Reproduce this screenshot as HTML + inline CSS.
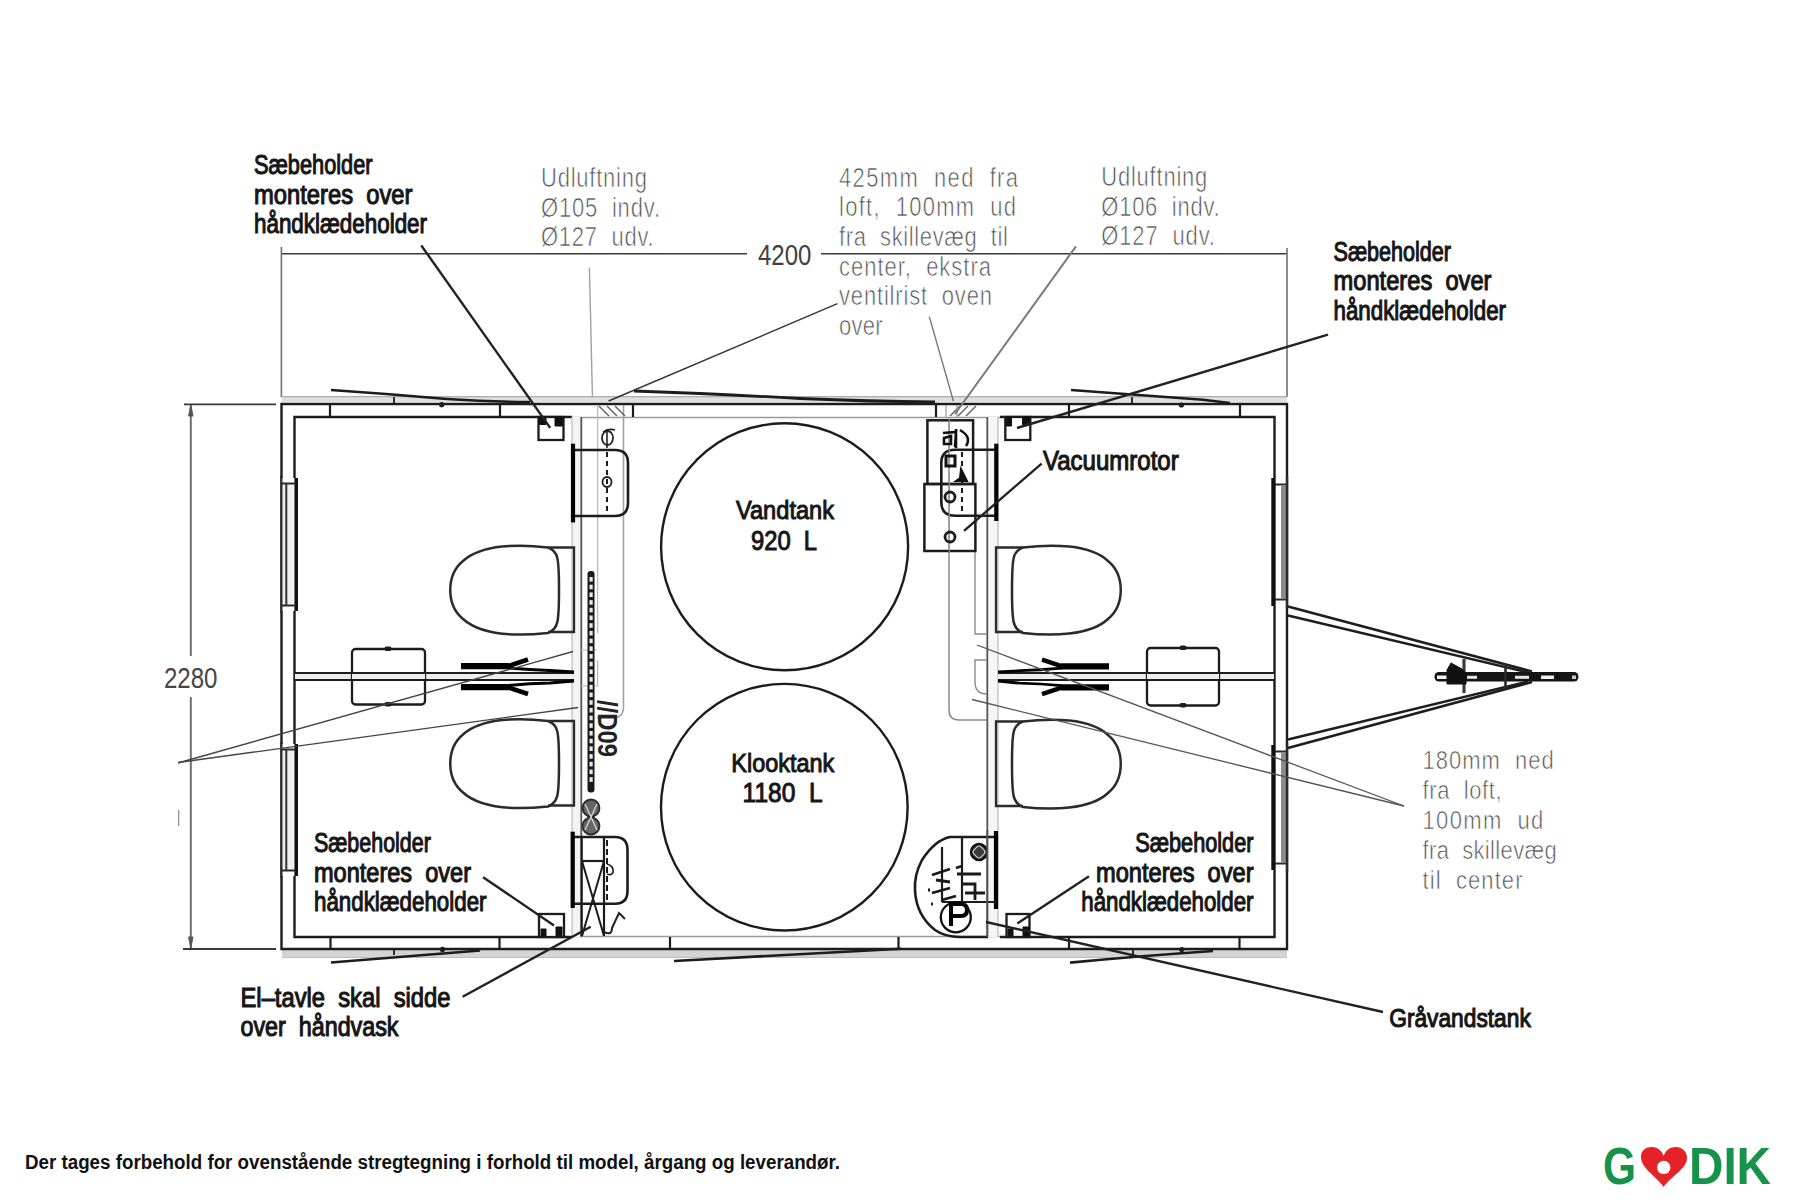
<!DOCTYPE html>
<html><head><meta charset="utf-8"><style>
html,body{margin:0;padding:0;background:#fff;}
svg{display:block;font-family:"Liberation Sans",sans-serif;}
</style></head><body>
<svg width="1800" height="1200" viewBox="0 0 1800 1200">
<rect width="1800" height="1200" fill="#fff"/>
<line x1="281" y1="253.7" x2="747" y2="253.7" stroke="#3a3a3a" stroke-width="1.6" />
<line x1="821" y1="253.7" x2="1287" y2="253.7" stroke="#3a3a3a" stroke-width="1.6" />
<line x1="281.4" y1="247" x2="281.4" y2="397" stroke="#707070" stroke-width="1.6" />
<line x1="1287" y1="248" x2="1287" y2="397" stroke="#707070" stroke-width="1.6" />
<text transform="translate(758,264.5) scale(1,1.440)" x="0" y="0" font-size="21" font-weight="normal" fill="#404040" textLength="53.3" lengthAdjust="spacingAndGlyphs" stroke="#fff" stroke-width="0" style="white-space:pre">4200</text>
<line x1="190.8" y1="404" x2="190.8" y2="656" stroke="#707070" stroke-width="2" />
<line x1="190.8" y1="697" x2="190.8" y2="949" stroke="#707070" stroke-width="2" />
<line x1="184" y1="404.4" x2="276" y2="404.4" stroke="#3a3a3a" stroke-width="1.8" />
<line x1="183" y1="949" x2="276" y2="949" stroke="#3a3a3a" stroke-width="1.8" />
<text transform="translate(164,687.5) scale(1,1.440)" x="0" y="0" font-size="21" font-weight="normal" fill="#454545" textLength="53.5" lengthAdjust="spacingAndGlyphs" stroke="#fff" stroke-width="0" style="white-space:pre">2280</text>
<line x1="178.7" y1="810" x2="178.7" y2="826" stroke="#888" stroke-width="1.2" />
<path d="M188.6,416 L190.8,405 L193,416 Z" stroke="#555" stroke-width="1" fill="#555" />
<path d="M188.6,937 L190.8,948 L193,937 Z" stroke="#555" stroke-width="1" fill="#555" />
<rect x="282" y="396.5" width="1005" height="5.5" fill="#e0e0e0" />
<line x1="281.4" y1="396.8" x2="1287" y2="396.8" stroke="#9a9a9a" stroke-width="1.1" />
<rect x="282" y="950" width="1005" height="8" fill="#d4d4d4" />
<line x1="282" y1="957.5" x2="1287" y2="957.5" stroke="#bdbdbd" stroke-width="1" />
<path d="M281.5,949 L281.5,404 L1287,404 L1287,949 Z" stroke="#1c1c1c" stroke-width="2.4" fill="none" />
<path d="M572,417 L294.5,417 L294.5,937 L572,937" stroke="#1c1c1c" stroke-width="2.4" fill="none" />
<path d="M1000,417 L1274.5,417 L1274.5,937 L1000,937" stroke="#1c1c1c" stroke-width="2.4" fill="none" />
<line x1="572" y1="417.5" x2="1000" y2="417.5" stroke="#9a9a9a" stroke-width="1.4" />
<line x1="572" y1="936.5" x2="1000" y2="936.5" stroke="#9a9a9a" stroke-width="1.4" />
<line x1="330" y1="404" x2="330" y2="417" stroke="#1c1c1c" stroke-width="2.2" />
<line x1="500" y1="404" x2="500" y2="417" stroke="#1c1c1c" stroke-width="2.2" />
<line x1="633" y1="404" x2="633" y2="417" stroke="#1c1c1c" stroke-width="2.2" />
<line x1="936" y1="404" x2="936" y2="417" stroke="#1c1c1c" stroke-width="2.2" />
<line x1="1069" y1="404" x2="1069" y2="417" stroke="#1c1c1c" stroke-width="2.2" />
<line x1="1240" y1="404" x2="1240" y2="417" stroke="#1c1c1c" stroke-width="2.2" />
<line x1="394" y1="397" x2="394" y2="403" stroke="#1c1c1c" stroke-width="1.8" />
<line x1="1132" y1="397" x2="1132" y2="403" stroke="#1c1c1c" stroke-width="1.8" />
<line x1="330.5" y1="937" x2="330.5" y2="949" stroke="#1c1c1c" stroke-width="2.2" />
<line x1="499.5" y1="937" x2="499.5" y2="949" stroke="#1c1c1c" stroke-width="2.2" />
<line x1="670" y1="937" x2="670" y2="949" stroke="#1c1c1c" stroke-width="2.2" />
<line x1="898.5" y1="937" x2="898.5" y2="949" stroke="#1c1c1c" stroke-width="2.2" />
<line x1="1069" y1="937" x2="1069" y2="949" stroke="#1c1c1c" stroke-width="2.2" />
<line x1="1239.5" y1="937" x2="1239.5" y2="949" stroke="#1c1c1c" stroke-width="2.2" />
<line x1="394" y1="949" x2="394" y2="955" stroke="#1c1c1c" stroke-width="1.8" />
<line x1="1133" y1="949" x2="1133" y2="955" stroke="#1c1c1c" stroke-width="1.8" />
<path d="M331,390 Q390,394 447,399 Q490,402 530,402" stroke="#1c1c1c" stroke-width="2.6" fill="none" />
<path d="M634,391 Q720,394 800,398.5 Q870,401.5 935,402" stroke="#1c1c1c" stroke-width="2.8" fill="none" />
<path d="M1071,390 Q1140,395 1203,399.7 L1230,403" stroke="#1c1c1c" stroke-width="2.6" fill="none" />
<circle cx="441.7" cy="404.7" r="2.6" fill="#1c1c1c"/>
<circle cx="1181.4" cy="405" r="2.6" fill="#1c1c1c"/>
<path d="M331,962.5 Q400,957 480,950.5" stroke="#1c1c1c" stroke-width="2.6" fill="none" />
<path d="M674,961 Q790,955 901,948.7" stroke="#1c1c1c" stroke-width="2.6" fill="none" />
<path d="M1070,962.6 Q1140,956 1213,951" stroke="#1c1c1c" stroke-width="2.6" fill="none" />
<circle cx="442.5" cy="949.4" r="2.6" fill="#1c1c1c"/>
<circle cx="1181.7" cy="949.6" r="2.6" fill="#1c1c1c"/>
<rect x="572" y="417" width="9" height="520" fill="#f3f3f3" />
<line x1="572" y1="417" x2="572" y2="937" stroke="#c4c4c4" stroke-width="1.4" />
<line x1="581.3" y1="417" x2="581.3" y2="937" stroke="#555" stroke-width="1.8" />
<line x1="597.6" y1="405" x2="597.6" y2="633" stroke="#bbb" stroke-width="1.3" />
<line x1="597.6" y1="660" x2="597.6" y2="686" stroke="#bbb" stroke-width="1.3" />
<path d="M623.5,405 L623.5,707 Q623.5,718 612,718 L597,718" stroke="#a0a0a0" stroke-width="1.5" fill="none" />
<rect x="988" y="417" width="10" height="520" fill="#f6f6f6" />
<line x1="987.3" y1="417" x2="987.3" y2="937" stroke="#555" stroke-width="1.8" />
<line x1="998" y1="417" x2="998" y2="937" stroke="#c4c4c4" stroke-width="1.4" />
<path d="M949,420 L949,710 Q949,720 959,720 L987,720" stroke="#8a8a8a" stroke-width="1.5" fill="none" />
<path d="M975,551 L975,634 L987,634" stroke="#8a8a8a" stroke-width="1.4" fill="none" />
<path d="M987,660 L975,660 L975,682 Q975,694 987,694" stroke="#8a8a8a" stroke-width="1.4" fill="none" />
<path d="M581,650 L597,650 M581,686 L597,686" stroke="#bbb" stroke-width="1.2" fill="none" />
<line x1="599" y1="406" x2="609" y2="416" stroke="#666" stroke-width="1.5" />
<line x1="607" y1="406" x2="617" y2="416" stroke="#666" stroke-width="1.5" />
<line x1="615" y1="406" x2="625" y2="416" stroke="#666" stroke-width="1.5" />
<line x1="950" y1="416" x2="960" y2="406" stroke="#666" stroke-width="1.5" />
<line x1="958" y1="416" x2="968" y2="406" stroke="#666" stroke-width="1.5" />
<line x1="966" y1="416" x2="976" y2="406" stroke="#666" stroke-width="1.5" />
<line x1="946" y1="405" x2="946" y2="417" stroke="#999" stroke-width="1.2" />
<line x1="957" y1="405" x2="957" y2="417" stroke="#999" stroke-width="1.2" />
<rect x="295" y="673" width="279" height="7" fill="#eeeeee" />
<rect x="998" y="673" width="276" height="7" fill="#eeeeee" />
<line x1="295" y1="673" x2="574" y2="673" stroke="#1c1c1c" stroke-width="2.0" />
<line x1="295" y1="680" x2="574" y2="680" stroke="#1c1c1c" stroke-width="2.0" />
<line x1="998" y1="673" x2="1274" y2="673" stroke="#1c1c1c" stroke-width="2.0" />
<line x1="998" y1="680" x2="1274" y2="680" stroke="#1c1c1c" stroke-width="2.0" />
<rect x="279" y="478" width="16" height="133" fill="#ffffff" />
<rect x="282.5" y="484" width="11" height="121" fill="#efefef" />
<line x1="296.2" y1="478" x2="296.2" y2="611" stroke="#111" stroke-width="3.6" />
<path d="M296,483.5 L281.3,483.5 M296,605.5 L281.3,605.5" stroke="#2a2a2a" stroke-width="2.2" fill="none" />
<line x1="281.3" y1="476" x2="281.3" y2="613" stroke="#2a2a2a" stroke-width="2.4" />
<line x1="286.3" y1="483.5" x2="286.3" y2="605.5" stroke="#333" stroke-width="2.0" />
<rect x="279" y="744" width="16" height="132" fill="#ffffff" />
<rect x="282.5" y="750" width="11" height="120" fill="#efefef" />
<line x1="296.2" y1="744" x2="296.2" y2="876" stroke="#111" stroke-width="3.6" />
<path d="M296,749.5 L281.3,749.5 M296,870.5 L281.3,870.5" stroke="#2a2a2a" stroke-width="2.2" fill="none" />
<line x1="281.3" y1="742" x2="281.3" y2="878" stroke="#2a2a2a" stroke-width="2.4" />
<line x1="286.3" y1="749.5" x2="286.3" y2="870.5" stroke="#333" stroke-width="2.0" />
<rect x="1275.5" y="478" width="10" height="128" fill="#ffffff" />
<line x1="1273.4" y1="478" x2="1273.4" y2="606" stroke="#111" stroke-width="4.2" />
<path d="M1275,484.5 L1287,484.5 M1275,599.5 L1287,599.5" stroke="#2a2a2a" stroke-width="2.2" fill="none" />
<rect x="1281" y="485.5" width="5.5" height="113" fill="#8c8c8c" />
<line x1="1287" y1="476" x2="1287" y2="608" stroke="#2a2a2a" stroke-width="2.4" />
<rect x="1275.5" y="745" width="10" height="125" fill="#ffffff" />
<line x1="1273.4" y1="745" x2="1273.4" y2="870" stroke="#111" stroke-width="4.2" />
<path d="M1275,751.5 L1287,751.5 M1275,863.5 L1287,863.5" stroke="#2a2a2a" stroke-width="2.2" fill="none" />
<rect x="1281" y="752.5" width="5.5" height="110" fill="#8c8c8c" />
<line x1="1287" y1="743" x2="1287" y2="872" stroke="#2a2a2a" stroke-width="2.4" />
<path d="M1288,606.5 L1532,671.5" stroke="#1e1e1e" stroke-width="2.6" fill="none" />
<path d="M1288,615.5 L1528,672.5" stroke="#1e1e1e" stroke-width="2.4" fill="none" />
<path d="M1288,739.5 L1528,681.5" stroke="#1e1e1e" stroke-width="2.4" fill="none" />
<path d="M1288,748 L1532,682" stroke="#1e1e1e" stroke-width="2.6" fill="none" />
<rect x="1434.5" y="672" width="144" height="9.5" rx="4.5" fill="#151515"/>
<rect x="1437" y="675.5" width="19" height="3.5" fill="#f2f2f2" />
<rect x="1467" y="675.8" width="10" height="3" fill="#e8e8e8" />
<rect x="1515" y="675.8" width="14" height="3" fill="#e8e8e8" />
<rect x="1541" y="675.5" width="13" height="3.5" fill="#f2f2f2" />
<rect x="1572" y="675.5" width="4" height="3.5" fill="#cccccc" />
<line x1="1464" y1="659" x2="1464" y2="693" stroke="#3a3a3a" stroke-width="3.2" />
<line x1="1505.5" y1="664" x2="1505.5" y2="689" stroke="#2a2a2a" stroke-width="2.6" />
<path d="M1451,663 L1462,669 L1466,673 L1466,684 L1447,684 L1447,670 Z" stroke="#111" stroke-width="1" fill="#111" />
<circle cx="784.6" cy="546.8" r="123.5" stroke="#1c1c1c" stroke-width="2.4" fill="none"/>
<circle cx="784.3" cy="807.2" r="123.3" stroke="#1c1c1c" stroke-width="2.4" fill="none"/>
<text x="736" y="519.2" font-size="26" font-weight="normal" fill="#161616" text-anchor="start" textLength="98" lengthAdjust="spacingAndGlyphs" stroke="#161616" stroke-width="1.0" style="white-space:pre" >Vandtank</text>
<text x="751" y="550.2" font-size="27" font-weight="normal" fill="#161616" text-anchor="start" textLength="66" lengthAdjust="spacingAndGlyphs" stroke="#161616" stroke-width="1.0" style="white-space:pre" >920  L</text>
<text x="731.3" y="771.7" font-size="26" font-weight="normal" fill="#161616" text-anchor="start" textLength="103" lengthAdjust="spacingAndGlyphs" stroke="#161616" stroke-width="1.0" style="white-space:pre" >Klooktank</text>
<text x="742.6" y="802" font-size="27" font-weight="normal" fill="#161616" text-anchor="start" textLength="80" lengthAdjust="spacingAndGlyphs" stroke="#161616" stroke-width="1.0" style="white-space:pre" >1180  L</text>
<path d="M548,547.5 C520,544 482,544 463,561 C446,575 446,605 463,619 C482,636 520,636 548,633 C558,629 559,623 559,590 C559,557 558,551 548,547.5 Z" stroke="#2e2a2a" stroke-width="2.5" fill="none" />
<path d="M548,547.5 L574,547.5 L574,632 L548,632" stroke="#2e2a2a" stroke-width="2.3" fill="none" />
<path d="M548,721.0 C520,717.5 482,717.5 463,734.5 C446,748.5 446,778.5 463,792.5 C482,809.5 520,809.5 548,806.5 C558,802.5 559,796.5 559,763.5 C559,730.5 558,724.5 548,721.0 Z" stroke="#2e2a2a" stroke-width="2.5" fill="none" />
<path d="M548,721.0 L574,721.0 L574,805.5 L548,805.5" stroke="#2e2a2a" stroke-width="2.3" fill="none" />
<path d="M1023,547.5 C1051,544 1090,544 1108,561 C1125,575 1125,605 1108,619 C1090,636 1051,636 1023,633 C1013,629 1012,623 1012,590 C1012,557 1013,551 1023,547.5 Z" stroke="#2e2a2a" stroke-width="2.5" fill="none" />
<path d="M1023,547.5 L996,547.5 L996,632 L1023,632" stroke="#2e2a2a" stroke-width="2.3" fill="none" />
<path d="M1023,721.5 C1051,718 1090,718 1108,735 C1125,749 1125,779 1108,793 C1090,810 1051,810 1023,807 C1013,803 1012,797 1012,764 C1012,731 1013,725 1023,721.5 Z" stroke="#2e2a2a" stroke-width="2.5" fill="none" />
<path d="M1023,721.5 L996,721.5 L996,806 L1023,806" stroke="#2e2a2a" stroke-width="2.3" fill="none" />
<rect x="352" y="649" width="73" height="55.5" rx="3.5" stroke="#1c1c1c" stroke-width="2.3" fill="#fff" />
<rect x="1147" y="648" width="72" height="57.5" rx="3.5" stroke="#1c1c1c" stroke-width="2.3" fill="#fff" />
<rect x="384.5" y="646.5" width="7" height="4.5" rx="2" fill="#1c1c1c"/>
<rect x="384.5" y="702.0" width="7" height="4.5" rx="2" fill="#1c1c1c"/>
<rect x="1179.5" y="645.5" width="7" height="4.5" rx="2" fill="#1c1c1c"/>
<rect x="1179.5" y="703.0" width="7" height="4.5" rx="2" fill="#1c1c1c"/>
<line x1="295" y1="673" x2="574" y2="673" stroke="#1c1c1c" stroke-width="2.0" />
<line x1="295" y1="680" x2="574" y2="680" stroke="#1c1c1c" stroke-width="2.0" />
<line x1="998" y1="673" x2="1274" y2="673" stroke="#1c1c1c" stroke-width="2.0" />
<line x1="998" y1="680" x2="1274" y2="680" stroke="#1c1c1c" stroke-width="2.0" />
<rect x="352" y="674" width="73" height="5" fill="#eeeeee" />
<rect x="1147" y="674" width="72" height="5" fill="#eeeeee" />
<path d="M461,666.2 L509,666.2" stroke="#000" stroke-width="6.2" fill="none" />
<path d="M507,666.5 L528,659.5" stroke="#000" stroke-width="4.5" fill="none" />
<path d="M508,668 Q530,670 550,670.5 L574,672" stroke="#000" stroke-width="2.8" fill="none" />
<path d="M461,687.2 L509,687.2" stroke="#000" stroke-width="6.2" fill="none" />
<path d="M507,687 L528,694" stroke="#000" stroke-width="4.5" fill="none" />
<path d="M508,685.5 Q530,683.5 550,683 L574,681" stroke="#000" stroke-width="2.8" fill="none" />
<path d="M1109,666.4 L1061,666.4" stroke="#000" stroke-width="6.2" fill="none" />
<path d="M1063,666.7 L1042,659.7" stroke="#000" stroke-width="4.5" fill="none" />
<path d="M1062,668.2 Q1040,670.2 1020,670.7 L998,672" stroke="#000" stroke-width="2.8" fill="none" />
<path d="M1109,687.4 L1061,687.4" stroke="#000" stroke-width="6.2" fill="none" />
<path d="M1063,687.2 L1042,694.2" stroke="#000" stroke-width="4.5" fill="none" />
<path d="M1062,685.7 Q1040,683.7 1020,683.2 L998,681" stroke="#000" stroke-width="2.8" fill="none" />
<path d="M573,450 L615,450 Q628,450 628,463 L628,503 Q628,516 615,516 L573,516" stroke="#1c1c1c" stroke-width="2.6" fill="none" />
<line x1="573" y1="443.7" x2="573" y2="522.4" stroke="#000" stroke-width="4.2" />
<line x1="607" y1="452" x2="607" y2="514" stroke="#1c1c1c" stroke-width="2" stroke-dasharray="5,4"/>
<ellipse cx="607" cy="482" rx="4.5" ry="5" stroke="#1c1c1c" stroke-width="1.8" fill="none"/>
<ellipse cx="607.5" cy="438" rx="5.5" ry="7" stroke="#222" stroke-width="1.8" fill="none"/>
<path d="M607,429 L607,448 M603,432 Q608,428 615,430" stroke="#222" stroke-width="1.6" fill="none" />
<path d="M996,449.7 L955,449.7 Q941.3,449.7 941.3,463 L941.3,502 Q941.3,515.7 955,515.7 L996,515.7" stroke="#1c1c1c" stroke-width="2.6" fill="none" />
<line x1="996.3" y1="443.7" x2="996.3" y2="521" stroke="#000" stroke-width="4.2" />
<line x1="962" y1="452" x2="962" y2="514" stroke="#1c1c1c" stroke-width="2" stroke-dasharray="5,4"/>
<rect x="927.4" y="420.3" width="45.7" height="63.7" rx="0" stroke="#1c1c1c" stroke-width="2.5" fill="none" />
<rect x="924.4" y="484" width="51" height="67" rx="0" stroke="#1c1c1c" stroke-width="2.5" fill="none" />
<line x1="949.3" y1="417" x2="949.3" y2="552" stroke="#999" stroke-width="1.2" />
<circle cx="950" cy="497" r="5" stroke="#1c1c1c" stroke-width="2.8" fill="none"/>
<circle cx="950" cy="537" r="5" stroke="#1c1c1c" stroke-width="2.8" fill="none"/>
<path d="M943,433 L956,432 L955,447 M944,438 L951,436 L951,444 L944,444 Z M960,430 Q972,437 966,446 M956,429 L956,448" stroke="#111" stroke-width="2.6" fill="none" />
<path d="M946,456 L955,456 L955,466 L946,466 Z" stroke="#111" stroke-width="3" fill="none" />
<path d="M961,469 L960,478 L956,481 L967,481 Z" stroke="#111" stroke-width="2" fill="#111" />
<rect x="538.5" y="417" width="25" height="23" rx="0" stroke="#1c1c1c" stroke-width="2.3" fill="#fff" />
<path d="M539.5,417 L546,417 L546,424.5 L539.5,424.5 Z M555,417 L562.5,417 L562.5,426 L555,426 Z" stroke="#111" stroke-width="1" fill="#111" />
<rect x="1005.3" y="417" width="25" height="23" rx="0" stroke="#1c1c1c" stroke-width="2.3" fill="#fff" />
<path d="M1006.3,417 L1011.5,417 L1011.5,426 L1006.3,426 Z M1022.5,417 L1029.3,417 L1029.3,424.5 L1022.5,424.5 Z" stroke="#111" stroke-width="1" fill="#111" />
<rect x="539" y="914" width="25" height="23" rx="0" stroke="#1c1c1c" stroke-width="2.3" fill="#fff" />
<path d="M541,929 L546,929 L546,936 L541,936 Z M556,927 L562,927 L562,936 L556,936 Z" stroke="#111" stroke-width="1" fill="#111" />
<rect x="1006.5" y="914" width="23" height="23" rx="0" stroke="#1c1c1c" stroke-width="2.3" fill="#fff" />
<path d="M1008,929 L1013,929 L1013,936 L1008,936 Z M1023,927 L1029,927 L1029,936 L1023,936 Z" stroke="#111" stroke-width="1" fill="#111" />
<path d="M573,837 L615,837 Q627.5,837 627.5,850 L627.5,891 Q627.5,903.7 615,903.7 L573,903.7" stroke="#1c1c1c" stroke-width="2.6" fill="none" />
<line x1="572.7" y1="831.7" x2="572.7" y2="908" stroke="#000" stroke-width="4.2" />
<line x1="581.7" y1="837" x2="581.7" y2="936" stroke="#1c1c1c" stroke-width="2.2" />
<line x1="604" y1="837" x2="604" y2="936" stroke="#1c1c1c" stroke-width="2.2" />
<line x1="581.7" y1="861" x2="604" y2="861" stroke="#1c1c1c" stroke-width="2.2" />
<path d="M582,861 L604,936 M604,861 L582,936" stroke="#1c1c1c" stroke-width="2" fill="none" />
<path d="M604,932 Q612,936 612,928 L619,913 L625,919" stroke="#222" stroke-width="2" fill="none" />
<line x1="607" y1="840" x2="607" y2="900" stroke="#1c1c1c" stroke-width="2" stroke-dasharray="6,3"/>
<path d="M607,864 Q614,866 613,872 Q612,876 607,874" stroke="#222" stroke-width="1.8" fill="none" />
<circle cx="591" cy="808" r="8.5" fill="#666" stroke="#2a2a2a" stroke-width="1.8"/>
<circle cx="591" cy="826" r="8.5" fill="#666" stroke="#2a2a2a" stroke-width="1.8"/>
<path d="M585,804 Q591,817 597,830 M597,804 Q591,817 585,830" stroke="#d8d8d8" stroke-width="1.3" fill="none" />
<rect x="587.5" y="571" width="7" height="221.5" rx="3" fill="#1a1a1a"/>
<rect x="589.5" y="577.0" width="3.2" height="4.6" fill="#e8e8e8" />
<rect x="589.5" y="584.7" width="3.2" height="4.6" fill="#e8e8e8" />
<rect x="589.5" y="592.4" width="3.2" height="4.6" fill="#e8e8e8" />
<rect x="589.5" y="600.1" width="3.2" height="4.6" fill="#e8e8e8" />
<rect x="589.5" y="607.8" width="3.2" height="4.6" fill="#e8e8e8" />
<rect x="589.5" y="615.5" width="3.2" height="4.6" fill="#e8e8e8" />
<rect x="589.5" y="623.2" width="3.2" height="4.6" fill="#e8e8e8" />
<rect x="589.5" y="630.9" width="3.2" height="4.6" fill="#e8e8e8" />
<rect x="589.5" y="638.6" width="3.2" height="4.6" fill="#e8e8e8" />
<rect x="589.5" y="646.3" width="3.2" height="4.6" fill="#e8e8e8" />
<rect x="589.5" y="654.0" width="3.2" height="4.6" fill="#e8e8e8" />
<rect x="589.5" y="661.7" width="3.2" height="4.6" fill="#e8e8e8" />
<rect x="589.5" y="669.4" width="3.2" height="4.6" fill="#e8e8e8" />
<rect x="589.5" y="677.1" width="3.2" height="4.6" fill="#e8e8e8" />
<rect x="589.5" y="684.8" width="3.2" height="4.6" fill="#e8e8e8" />
<rect x="589.5" y="692.5" width="3.2" height="4.6" fill="#e8e8e8" />
<rect x="589.5" y="700.2" width="3.2" height="4.6" fill="#e8e8e8" />
<rect x="589.5" y="707.9" width="3.2" height="4.6" fill="#e8e8e8" />
<rect x="589.5" y="715.6" width="3.2" height="4.6" fill="#e8e8e8" />
<rect x="589.5" y="723.3" width="3.2" height="4.6" fill="#e8e8e8" />
<rect x="589.5" y="731.0" width="3.2" height="4.6" fill="#e8e8e8" />
<rect x="589.5" y="738.7" width="3.2" height="4.6" fill="#e8e8e8" />
<rect x="589.5" y="746.4" width="3.2" height="4.6" fill="#e8e8e8" />
<rect x="589.5" y="754.1" width="3.2" height="4.6" fill="#e8e8e8" />
<rect x="589.5" y="761.8" width="3.2" height="4.6" fill="#e8e8e8" />
<rect x="589.5" y="769.5" width="3.2" height="4.6" fill="#e8e8e8" />
<rect x="589.5" y="777.2" width="3.2" height="4.6" fill="#e8e8e8" />
<text x="0" y="0" font-size="27" font-weight="bold" fill="#222" transform="translate(598,700) rotate(90)" textLength="57" lengthAdjust="spacingAndGlyphs">//D09</text>
<path d="M996,837 L950,837 Q935,840 922,860 Q914,875 915,890 Q916,915 935,930 Q945,937 960,937 L988,937" stroke="#1c1c1c" stroke-width="2.6" fill="none" />
<line x1="996" y1="831" x2="996" y2="909" stroke="#000" stroke-width="4.2" />
<line x1="942" y1="847" x2="942" y2="902" stroke="#1c1c1c" stroke-width="2.2" />
<line x1="962" y1="837" x2="962" y2="902" stroke="#1c1c1c" stroke-width="2.2" />
<line x1="942" y1="902" x2="996" y2="902" stroke="#1c1c1c" stroke-width="2.2" />
<circle cx="979" cy="852" r="8" stroke="#111" stroke-width="2.4" fill="#3a3a3a"/>
<rect x="974" y="847" width="10" height="10" rx="3" transform="rotate(45 979 852)" stroke="#ddd" stroke-width="1" fill="none"/>
<circle cx="955.8" cy="917.3" r="15" stroke="#111" stroke-width="2.3" fill="none"/>
<path d="M951,926 L951,904 L961,904 Q967,904 967,910 Q967,916 961,916 L953,916" stroke="#000" stroke-width="4" fill="none" />
<path d="M932,875 L950,869 M936,880 L950,882 M932,893 L950,888 M956,868 L962,866 M957,874 L981,874 M962,884 L975,884 L975,900 M965,893 L985,893 M942,900 L956,896 M928,890 L930,890 M931,904 L933,904" stroke="#1a1a1a" stroke-width="2.8" fill="none" />
<line x1="987.3" y1="830" x2="987.3" y2="937" stroke="#555" stroke-width="1.8" />
<text x="254" y="174.3" font-size="27" font-weight="normal" fill="#161616" text-anchor="start" textLength="118.5" lengthAdjust="spacingAndGlyphs" stroke="#161616" stroke-width="1.1" style="white-space:pre" >Sæbeholder</text>
<text x="254" y="203.8" font-size="27" font-weight="normal" fill="#161616" text-anchor="start" textLength="158.5" lengthAdjust="spacingAndGlyphs" stroke="#161616" stroke-width="1.1" style="white-space:pre" >monteres  over</text>
<text x="254" y="233.3" font-size="27" font-weight="normal" fill="#161616" text-anchor="start" textLength="173" lengthAdjust="spacingAndGlyphs" stroke="#161616" stroke-width="1.1" style="white-space:pre" >håndklædeholder</text>
<text x="1333.5" y="260.7" font-size="27" font-weight="normal" fill="#161616" text-anchor="start" textLength="117.5" lengthAdjust="spacingAndGlyphs" stroke="#161616" stroke-width="1.1" style="white-space:pre" >Sæbeholder</text>
<text x="1333.5" y="290.2" font-size="27" font-weight="normal" fill="#161616" text-anchor="start" textLength="158" lengthAdjust="spacingAndGlyphs" stroke="#161616" stroke-width="1.1" style="white-space:pre" >monteres  over</text>
<text x="1333.5" y="319.7" font-size="27" font-weight="normal" fill="#161616" text-anchor="start" textLength="172.5" lengthAdjust="spacingAndGlyphs" stroke="#161616" stroke-width="1.1" style="white-space:pre" >håndklædeholder</text>
<text x="1253.5" y="851.8" font-size="27" font-weight="normal" fill="#161616" text-anchor="end" textLength="118.3" lengthAdjust="spacingAndGlyphs" stroke="#161616" stroke-width="1.1" style="white-space:pre" >Sæbeholder</text>
<text x="1253.5" y="881.55" font-size="27" font-weight="normal" fill="#161616" text-anchor="end" textLength="157.5" lengthAdjust="spacingAndGlyphs" stroke="#161616" stroke-width="1.1" style="white-space:pre" >monteres  over</text>
<text x="1253.5" y="911.3" font-size="27" font-weight="normal" fill="#161616" text-anchor="end" textLength="172.2" lengthAdjust="spacingAndGlyphs" stroke="#161616" stroke-width="1.1" style="white-space:pre" >håndklædeholder</text>
<text x="314" y="851.6" font-size="27" font-weight="normal" fill="#161616" text-anchor="start" textLength="116.8" lengthAdjust="spacingAndGlyphs" stroke="#161616" stroke-width="1.1" style="white-space:pre" >Sæbeholder</text>
<text x="314" y="881.5" font-size="27" font-weight="normal" fill="#161616" text-anchor="start" textLength="157" lengthAdjust="spacingAndGlyphs" stroke="#161616" stroke-width="1.1" style="white-space:pre" >monteres  over</text>
<text x="314" y="911.4" font-size="27" font-weight="normal" fill="#161616" text-anchor="start" textLength="172.5" lengthAdjust="spacingAndGlyphs" stroke="#161616" stroke-width="1.1" style="white-space:pre" >håndklædeholder</text>
<text x="240.5" y="1007" font-size="27" font-weight="normal" fill="#161616" text-anchor="start" textLength="210" lengthAdjust="spacingAndGlyphs" stroke="#161616" stroke-width="1.1" style="white-space:pre" >El–tavle  skal  sidde</text>
<text x="240.5" y="1036" font-size="27" font-weight="normal" fill="#161616" text-anchor="start" textLength="158" lengthAdjust="spacingAndGlyphs" stroke="#161616" stroke-width="1.1" style="white-space:pre" >over  håndvask</text>
<text x="1043" y="470.1" font-size="27" font-weight="normal" fill="#161616" text-anchor="start" textLength="135.7" lengthAdjust="spacingAndGlyphs" stroke="#161616" stroke-width="1.1" style="white-space:pre" >Vacuumrotor</text>
<text x="1389.2" y="1026.7" font-size="26" font-weight="normal" fill="#161616" text-anchor="start" textLength="141.6" lengthAdjust="spacingAndGlyphs" stroke="#161616" stroke-width="1.1" style="white-space:pre" >Gråvandstank</text>
<text transform="translate(541,186.7) scale(1,1.255)" x="0" y="0" font-size="22" font-weight="normal" fill="#525252" textLength="106" lengthAdjust="spacing" stroke="#fff" stroke-width="0.55" style="white-space:pre">Udluftning</text>
<text transform="translate(541,216.5) scale(1,1.255)" x="0" y="0" font-size="22" font-weight="normal" fill="#525252" textLength="119" lengthAdjust="spacing" stroke="#fff" stroke-width="0.55" style="white-space:pre">Ø105  indv.</text>
<text transform="translate(541,246.29999999999998) scale(1,1.255)" x="0" y="0" font-size="22" font-weight="normal" fill="#525252" textLength="112.7" lengthAdjust="spacing" stroke="#fff" stroke-width="0.55" style="white-space:pre">Ø127  udv.</text>
<text transform="translate(1101.3,185.8) scale(1,1.255)" x="0" y="0" font-size="22" font-weight="normal" fill="#525252" textLength="106" lengthAdjust="spacing" stroke="#fff" stroke-width="0.55" style="white-space:pre">Udluftning</text>
<text transform="translate(1101.3,215.60000000000002) scale(1,1.255)" x="0" y="0" font-size="22" font-weight="normal" fill="#525252" textLength="118.3" lengthAdjust="spacing" stroke="#fff" stroke-width="0.55" style="white-space:pre">Ø106  indv.</text>
<text transform="translate(1101.3,245.4) scale(1,1.255)" x="0" y="0" font-size="22" font-weight="normal" fill="#525252" textLength="113.7" lengthAdjust="spacing" stroke="#fff" stroke-width="0.55" style="white-space:pre">Ø127  udv.</text>
<text transform="translate(839,186.7) scale(1,1.255)" x="0" y="0" font-size="22" font-weight="normal" fill="#525252" textLength="179" lengthAdjust="spacing" stroke="#fff" stroke-width="0.55" style="white-space:pre">425mm  ned  fra</text>
<text transform="translate(839,216.35999999999999) scale(1,1.255)" x="0" y="0" font-size="22" font-weight="normal" fill="#525252" textLength="177" lengthAdjust="spacing" stroke="#fff" stroke-width="0.55" style="white-space:pre">loft,  100mm  ud</text>
<text transform="translate(839,246.01999999999998) scale(1,1.255)" x="0" y="0" font-size="22" font-weight="normal" fill="#525252" textLength="169" lengthAdjust="spacing" stroke="#fff" stroke-width="0.55" style="white-space:pre">fra  skillevæg  til</text>
<text transform="translate(839,275.68) scale(1,1.255)" x="0" y="0" font-size="22" font-weight="normal" fill="#525252" textLength="152" lengthAdjust="spacing" stroke="#fff" stroke-width="0.55" style="white-space:pre">center,  ekstra</text>
<text transform="translate(839,305.34) scale(1,1.255)" x="0" y="0" font-size="22" font-weight="normal" fill="#525252" textLength="153" lengthAdjust="spacing" stroke="#fff" stroke-width="0.55" style="white-space:pre">ventilrist  oven</text>
<text transform="translate(839,335.0) scale(1,1.255)" x="0" y="0" font-size="22" font-weight="normal" fill="#525252" textLength="43.5" lengthAdjust="spacing" stroke="#fff" stroke-width="0.55" style="white-space:pre">over</text>
<text transform="translate(1422.5,769.3) scale(1,1.189)" x="0" y="0" font-size="22" font-weight="normal" fill="#525252" textLength="131.3" lengthAdjust="spacing" stroke="#fff" stroke-width="0.55" style="white-space:pre">180mm  ned</text>
<text transform="translate(1422.5,799.15) scale(1,1.189)" x="0" y="0" font-size="22" font-weight="normal" fill="#525252" textLength="79.2" lengthAdjust="spacing" stroke="#fff" stroke-width="0.55" style="white-space:pre">fra  loft,</text>
<text transform="translate(1422.5,829.0) scale(1,1.189)" x="0" y="0" font-size="22" font-weight="normal" fill="#525252" textLength="120.8" lengthAdjust="spacing" stroke="#fff" stroke-width="0.55" style="white-space:pre">100mm  ud</text>
<text transform="translate(1422.5,858.8499999999999) scale(1,1.189)" x="0" y="0" font-size="22" font-weight="normal" fill="#525252" textLength="134.2" lengthAdjust="spacing" stroke="#fff" stroke-width="0.55" style="white-space:pre">fra  skillevæg</text>
<text transform="translate(1422.5,888.6999999999999) scale(1,1.189)" x="0" y="0" font-size="22" font-weight="normal" fill="#525252" textLength="100" lengthAdjust="spacing" stroke="#fff" stroke-width="0.55" style="white-space:pre">til  center</text>
<line x1="421.3" y1="245.5" x2="550.2" y2="427.9" stroke="#222" stroke-width="2.4" />
<line x1="1328" y1="334.6" x2="1017" y2="428" stroke="#222" stroke-width="2.4" />
<line x1="589.4" y1="267.5" x2="592.4" y2="396" stroke="#a0a0a0" stroke-width="1.4" />
<line x1="837.4" y1="303.7" x2="608.6" y2="401" stroke="#333" stroke-width="1.4" />
<line x1="929.3" y1="316.6" x2="953.4" y2="401" stroke="#777" stroke-width="1.4" />
<line x1="1076" y1="246.3" x2="955" y2="414" stroke="#7a7a7a" stroke-width="2.0" />
<line x1="1041.6" y1="463.6" x2="964" y2="530.8" stroke="#222" stroke-width="2.4" />
<line x1="1089" y1="876.3" x2="1017.3" y2="923.5" stroke="#222" stroke-width="2.4" />
<line x1="483.1" y1="877.2" x2="554" y2="925.5" stroke="#222" stroke-width="2.4" />
<line x1="462.6" y1="996.8" x2="590.7" y2="926.7" stroke="#222" stroke-width="2.4" />
<line x1="1383" y1="1012" x2="986" y2="922" stroke="#222" stroke-width="2.4" />
<line x1="178" y1="763" x2="573" y2="651.5" stroke="#444" stroke-width="1.3" />
<line x1="178" y1="762.5" x2="578" y2="707.5" stroke="#444" stroke-width="1.3" />
<line x1="977" y1="645" x2="1404" y2="806" stroke="#555" stroke-width="1.3" />
<line x1="972" y1="699.5" x2="1404" y2="806" stroke="#555" stroke-width="1.3" />
<text x="25" y="1168.5" font-size="19.5" font-weight="bold" fill="#111" text-anchor="start" textLength="815" lengthAdjust="spacingAndGlyphs" style="white-space:pre" >Der tages forbehold for ovenstående stregtegning i forhold til model, årgang og leverandør.</text>
<text x="1603" y="1184.2" font-size="52" font-weight="bold" fill="#16924a" text-anchor="start" textLength="33" lengthAdjust="spacingAndGlyphs" style="white-space:pre" >G</text>
<path d="M1663.7,1187 C1655,1175 1641,1168 1641,1157 C1641,1150 1646,1147 1652,1147 C1658,1147 1662,1151 1663.7,1156 C1665.5,1151 1669,1147 1675.5,1147 C1682,1147 1687,1151 1687,1158 C1687,1169 1672,1175 1663.7,1187 Z" stroke="#e52228" stroke-width="0" fill="#e52228" />
<circle cx="1663.7" cy="1167.4" r="6.7" fill="#fff"/>
<text x="1689" y="1184.2" font-size="52" font-weight="bold" fill="#16924a" text-anchor="start" textLength="82" lengthAdjust="spacingAndGlyphs" style="white-space:pre" >DIK</text>
</svg></body></html>
